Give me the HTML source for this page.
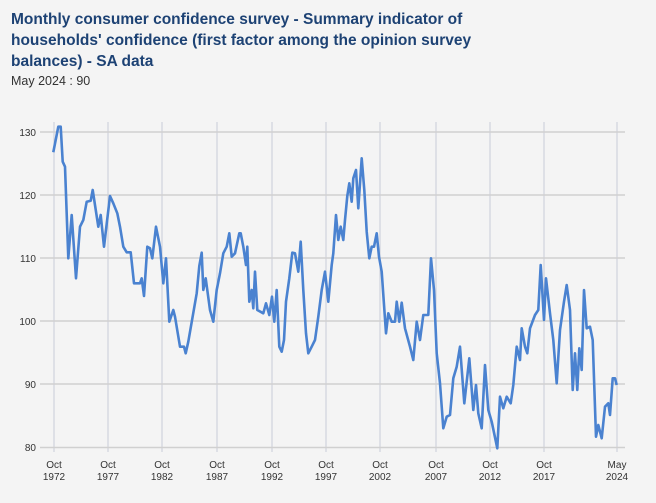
<!DOCTYPE html>
<html><head><style>
body{margin:0;background:#f4f4f4;width:656px;height:503px;overflow:hidden;font-family:"Liberation Sans",sans-serif}
.t{position:absolute;left:11px;top:9px;font-size:15.5px;font-weight:bold;color:#1d4274;line-height:21px;width:485px}
.s{position:absolute;left:11px;top:74px;font-size:12.5px;color:#333}
</style></head><body>
<div class="t">Monthly consumer confidence survey - Summary indicator of households' confidence (first factor among the opinion survey balances) - SA data</div>
<div class="s">May 2024 : 90</div>
<svg width="656" height="503" style="position:absolute;left:0;top:0" font-family="Liberation Sans, sans-serif" font-size="10" fill="#333">
<g stroke="#c9ccd8" stroke-width="1">
<line x1="54" y1="122" x2="54" y2="452"/><line x1="108" y1="122" x2="108" y2="452"/><line x1="162" y1="122" x2="162" y2="452"/><line x1="217" y1="122" x2="217" y2="452"/><line x1="272" y1="122" x2="272" y2="452"/><line x1="326" y1="122" x2="326" y2="452"/><line x1="380" y1="122" x2="380" y2="452"/><line x1="436" y1="122" x2="436" y2="452"/><line x1="490" y1="122" x2="490" y2="452"/><line x1="544" y1="122" x2="544" y2="452"/><line x1="617" y1="122" x2="617" y2="452"/>
</g>
<g stroke="#d0d0d0" stroke-width="1.5">
<line x1="40" y1="132" x2="625" y2="132"/><line x1="40" y1="195" x2="625" y2="195"/><line x1="40" y1="258" x2="625" y2="258"/><line x1="40" y1="321" x2="625" y2="321"/><line x1="40" y1="384" x2="625" y2="384"/><line x1="40" y1="447.5" x2="625" y2="447.5"/>
</g>
<g text-anchor="end"><text x="36" y="136">130</text><text x="36" y="199">120</text><text x="36" y="262">110</text><text x="36" y="325">100</text><text x="36" y="388">90</text><text x="36" y="451">80</text></g>
<g text-anchor="middle">
<text x="54" y="468">Oct</text><text x="54" y="480">1972</text>
<text x="108" y="468">Oct</text><text x="108" y="480">1977</text>
<text x="162" y="468">Oct</text><text x="162" y="480">1982</text>
<text x="217" y="468">Oct</text><text x="217" y="480">1987</text>
<text x="272" y="468">Oct</text><text x="272" y="480">1992</text>
<text x="326" y="468">Oct</text><text x="326" y="480">1997</text>
<text x="380" y="468">Oct</text><text x="380" y="480">2002</text>
<text x="436" y="468">Oct</text><text x="436" y="480">2007</text>
<text x="490" y="468">Oct</text><text x="490" y="480">2012</text>
<text x="544" y="468">Oct</text><text x="544" y="480">2017</text>
<text x="617" y="468">May</text><text x="617" y="480">2024</text>
</g>
<polyline fill="none" stroke="#4a82d0" stroke-width="2.6" stroke-linejoin="round" points="53.3,152.3 58.3,126.7 60.7,126.7 62.7,161.7 65,166.7 68.3,258.3 71.7,215 76,278.3 80,226.7 83.3,220 86.7,201.7 90.7,200.7 92.7,190 98.3,226.7 100.7,215 104,246.7 110,196 113.3,203.3 117.3,213.3 120,226.7 123.3,246.7 126.7,252.3 130.7,252.3 134,283.3 140,283.3 141.7,278.3 144,296 147.3,246.7 150,248.3 152.3,258.3 156,226.7 160,246.7 163.3,283.3 166,258.3 169.3,321.7 173.3,310 175,316.7 180,346.7 184,346.7 185.7,353.3 188.3,341.7 196.7,293.3 199.3,266 201.7,252.7 203.3,290 205.7,278.3 210,310 213.3,321.7 216.7,290 220,273.3 223.3,253.3 226.7,246.7 229.3,233.3 231.7,256.7 235,253.3 239.3,233.3 240.7,233.3 243.3,246.7 246,265 247.3,246.7 249.3,301.7 251.7,290 253.3,308.3 255,271.7 257.3,310 263.3,313.3 266,303.3 269.3,315 272,296.7 274.3,321.7 276.7,290 279.3,346.7 281.7,351.7 284,340 286,301.7 289.3,278.3 292.3,252.7 295,253.3 298.3,271.7 300.7,241.7 303.3,290 306,333.3 308.3,353.3 311.7,346.7 315,340 318.3,316.7 321.7,290 325,271.7 328.3,301.7 331.7,265 333.3,253.3 336,215 338.3,240 340.7,226.7 343.3,240 345,220 347.3,196 349.3,183.3 351.7,201.7 353.3,178.3 356,170 358.3,208.3 361.7,158.3 364.3,190 366.7,231.7 369.3,258.3 371.7,246.7 374,246.7 376.7,233.3 379,256.7 381.7,271.7 386,333.3 388.3,313.3 391.7,321.7 395,321.7 396.7,301.7 399.3,321.7 401.7,302.7 405,328.3 410,346.7 413.3,360 416.7,321.7 420,340 423.3,315 428.3,315 431,258.3 434,290 436.7,353.3 440,383.3 443.3,428.3 446.7,416.7 450,415 453.3,378.3 456.7,366.7 460,346.7 464.3,403.3 469.3,358.3 473.3,410 476,385 478.3,413.3 481.7,428.3 485,365 488.3,410 491.7,421.7 497.3,448.3 500,396.7 503.3,408.3 506.7,396.7 510.7,403.3 513.3,385 516.7,346.7 520,360 521.7,328.3 525,346.7 527.3,353.3 530,328.3 535,315 538.3,310 540.7,265 544,320 546,278.3 550,313.3 553.3,340 556.7,383.3 560,330 564,301.7 566.7,285 570,310 572.7,390 575,353.3 577.3,390 579.3,348.3 581.7,370 584,290 586.7,328.3 590,326.7 592.7,340 596,436.7 598.3,425 601.7,438.3 605,406.7 608.3,403.3 610,415 612.7,378.3 615,378.3 616.7,385"/>
</svg>
</body></html>
